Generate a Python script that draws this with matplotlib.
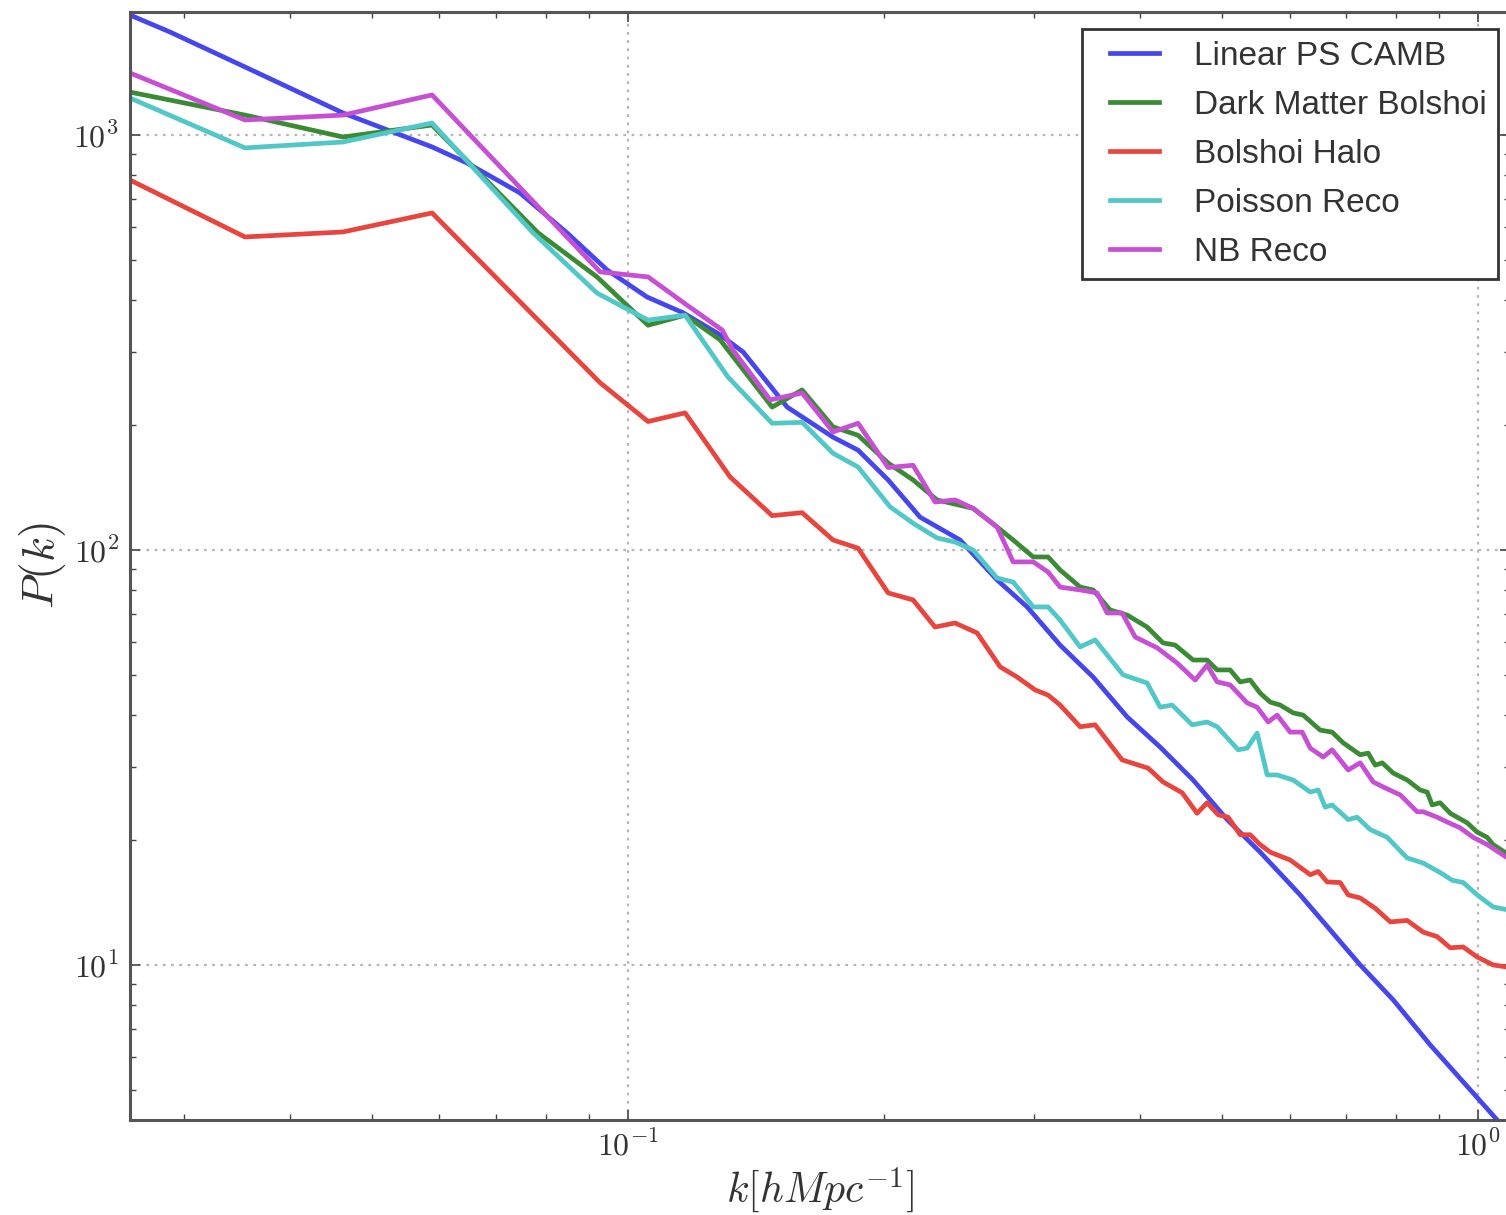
import matplotlib
matplotlib.use("Agg")
import matplotlib.pyplot as plt
from matplotlib.lines import Line2D
from matplotlib.legend_handler import HandlerLine2D
from matplotlib.ticker import FixedLocator, FixedFormatter, LogLocator, NullFormatter

plt.rcParams['mathtext.fontset'] = 'cm'
plt.rcParams['font.family'] = ['Liberation Sans', 'DejaVu Sans']

# Linear power spectrum (CAMB)
k_camb = [0.02595, 0.02892, 0.03543, 0.04621, 0.05881, 0.06466, 0.07463, 0.08476,
          0.09447, 0.10529, 0.11606, 0.12831, 0.13657, 0.15387, 0.17425, 0.18645,
          0.20227, 0.22054, 0.24578, 0.2717, 0.29478, 0.32226, 0.35244, 0.38645,
          0.42255, 0.46207, 0.50668, 0.55402, 0.61747, 0.72643, 0.79433, 0.87802,
          1.05285]
p_camb = [1946, 1771, 1459, 1130, 936, 856, 725, 581,
          473, 407, 373, 330, 300, 221, 187, 174,
          147.5, 120, 105.7, 84.7, 72.9, 59.0, 49.4, 39.6,
          33.5, 27.9, 22.4, 18.7, 14.75, 10.0, 8.24, 6.42,
          4.23]

# Bolshoi dark matter
k_dm = [0.02595, 0.03543, 0.04621, 0.05881, 0.07837, 0.09194, 0.10556, 0.1167,
        0.12831, 0.14773, 0.16024, 0.17425, 0.18645, 0.20227, 0.2164, 0.23092,
        0.25463, 0.2717, 0.28379, 0.29964, 0.31197, 0.32226, 0.34024, 0.35244,
        0.36903, 0.38645, 0.40791, 0.42598, 0.44006, 0.46207, 0.47993, 0.49309,
        0.51081, 0.52481, 0.53923, 0.55402, 0.56929, 0.5849, 0.60594, 0.62253,
        0.65192, 0.67325, 0.69372, 0.72643, 0.74234, 0.7566, 0.77119, 0.79433,
        0.82508, 0.85466, 0.87096, 0.88281, 0.90214, 0.92702, 0.97073, 0.99724,
        1.02471, 1.04139, 1.07868]
p_dm = [1269, 1117, 989, 1057, 581, 455, 348, 368,
        321, 221, 243, 198, 189, 162, 147.5, 132,
        126, 113.6, 105.7, 96.2, 96.2, 89.5, 81.4, 80.1,
        71.7, 69.7, 65.2, 59.7, 59.0, 54.3, 54.3, 51.4,
        51.4, 48.1, 48.6, 45.2, 43.0, 42.3, 40.5, 40.0,
        36.8, 36.4, 34.3, 32.1, 32.4, 30.3, 30.7, 29.0,
        27.9, 26.4, 26.1, 24.3, 24.6, 23.2, 22.0, 20.9,
        20.3, 19.5, 18.6]

# Bolshoi halos
k_halo = [0.02595, 0.03543, 0.04621, 0.05881, 0.0927, 0.10556, 0.1167, 0.13183,
          0.14773, 0.16024, 0.17425, 0.18645, 0.20227, 0.2164, 0.22967, 0.24247,
          0.2574, 0.27391, 0.28688, 0.30123, 0.31197, 0.32226, 0.34024, 0.35432,
          0.38122, 0.40902, 0.42598, 0.44853, 0.4671, 0.47993, 0.49446, 0.50805,
          0.52481, 0.53923, 0.55402, 0.56929, 0.60096, 0.63451, 0.6484, 0.66435,
          0.68801, 0.7032, 0.72643, 0.7566, 0.78814, 0.82508, 0.8616, 0.89487,
          0.92702, 0.96026, 0.99724, 1.04139, 1.07868]
p_halo = [779, 568, 584, 649, 253, 204, 214, 150,
          121, 123, 105.7, 101, 78.8, 75.8, 65.2, 66.7,
          63.1, 52.3, 49.4, 46.0, 44.7, 42.3, 37.5, 37.9,
          31.2, 29.8, 27.6, 26.0, 23.2, 24.6, 23.0, 22.7,
          20.6, 20.6, 19.5, 18.7, 17.9, 16.5, 16.8, 15.85,
          15.8, 14.75, 14.5, 13.7, 12.7, 12.8, 12.0, 11.7,
          11.0, 11.05, 10.45, 10.0, 9.89]

# Poisson reconstruction
k_poisson = [0.02595, 0.03543, 0.04621, 0.05881, 0.07731, 0.09194, 0.10556, 0.1167,
             0.1311, 0.14773, 0.16024, 0.17425, 0.18645, 0.20337, 0.2164, 0.23092,
             0.24247, 0.25463, 0.2717, 0.28379, 0.29964, 0.31197, 0.32226, 0.34024,
             0.35432, 0.38225, 0.40791, 0.42255, 0.43652, 0.4608, 0.47993, 0.49309,
             0.52199, 0.53484, 0.54954, 0.56466, 0.58015, 0.60594, 0.63451, 0.6484,
             0.66069, 0.67325, 0.7032, 0.72044, 0.74636, 0.78168, 0.82508, 0.8616,
             0.90214, 0.93202, 0.96026, 0.99724, 1.04139, 1.07868]
p_poisson = [1228, 931, 962, 1069, 581, 416, 358, 368,
             261, 202, 203, 171, 158.5, 127, 116, 106.9,
             104.5, 100, 85.6, 83.7, 72.9, 72.9, 67.8, 58.4,
             60.7, 50.0, 47.8, 41.8, 42.3, 37.9, 38.5, 37.5,
             33.0, 33.3, 36.2, 28.7, 28.7, 27.9, 26.1, 26.4,
             24.0, 24.3, 22.4, 22.7, 21.2, 20.3, 18.1, 17.6,
             16.7, 16.0, 15.8, 14.75, 13.8, 13.6]

# Negative binomial reconstruction
k_nb = [0.02595, 0.03543, 0.04621, 0.05881, 0.0927, 0.10556, 0.11733, 0.12902,
        0.1329, 0.14693, 0.16024, 0.17425, 0.18645, 0.20227, 0.2164, 0.22967,
        0.24247, 0.25463, 0.2717, 0.28379, 0.29964, 0.31197, 0.32226, 0.34024,
        0.35625, 0.366, 0.38122, 0.39491, 0.41915, 0.44246, 0.46463, 0.47993,
        0.49309, 0.51081, 0.53484, 0.54954, 0.5662, 0.58015, 0.60096, 0.62082,
        0.63451, 0.65721, 0.67325, 0.7032, 0.72643, 0.75252, 0.77745, 0.80949,
        0.84768, 0.8616, 0.89487, 0.91942, 0.95237, 0.98651, 1.02471, 1.07868]
p_nb = [1411, 1087, 1117, 1249, 468, 455, 389, 339,
        303, 230, 239, 192.5, 202, 158, 160, 130.5,
        132, 126, 113.6, 93.6, 93.6, 88.5, 81.4, 80.1,
        78.8, 70.5, 70.5, 61.7, 58.1, 53.4, 48.6, 52.8,
        48.1, 47.3, 42.8, 41.8, 38.5, 40.0, 36.4, 36.4,
        33.3, 31.7, 33.0, 29.5, 30.7, 27.6, 26.7, 25.7,
        23.4, 23.4, 22.7, 22.1, 21.4, 20.3, 19.5, 18.2]

series = [
    ("Linear PS CAMB", k_camb, p_camb, "#4646ee"),
    ("Dark Matter Bolshoi", k_dm, p_dm, "#3b8b35"),
    ("Bolshoi Halo", k_halo, p_halo, "#e8453f"),
    ("Poisson Reco", k_poisson, p_poisson, "#52c7c7"),
    ("NB Reco", k_nb, p_nb, "#c64fd4"),
]

x_ticks = [0.1, 1.0]
x_ticklabels = [r"$10^{-1}$", r"$10^{0}$"]
y_ticks = [10, 100, 1000]
y_ticklabels = [r"$10^{1}$", r"$10^{2}$", r"$10^{3}$"]

fig = plt.figure(figsize=(15.06, 12.15), dpi=100)
ax = fig.add_axes([0.08632, 0.07819, 0.91633, 0.91193])

for label, k, p, color in series:
    ax.plot(k, p, color=color, lw=3.4, label=label)

ax.set_xscale("log")
ax.set_yscale("log")
ax.set_xlim(0.02595, 1.09)
ax.set_ylim(4.23, 1979)

ax.xaxis.set_major_locator(FixedLocator(x_ticks))
ax.xaxis.set_major_formatter(FixedFormatter(x_ticklabels))
ax.yaxis.set_major_locator(FixedLocator(y_ticks))
ax.yaxis.set_major_formatter(FixedFormatter(y_ticklabels))
ax.xaxis.set_minor_locator(LogLocator(base=10, subs=range(2, 10)))
ax.yaxis.set_minor_locator(LogLocator(base=10, subs=range(2, 10)))
ax.xaxis.set_minor_formatter(NullFormatter())
ax.yaxis.set_minor_formatter(NullFormatter())

ax.tick_params(which="both", direction="in", top=True, right=True, colors="#444444")
ax.tick_params(which="major", length=7, width=1.2, labelsize=23, labelcolor="#333333", pad=8)
ax.tick_params(which="minor", length=4, width=1.0)

for sp in ax.spines.values():
    sp.set_linewidth(2.2)
    sp.set_color("#555555")

ax.grid(True, which="major", linestyle=(0, (1.2, 2.5)), color="#b5b5b5", lw=1.6)

ax.set_xlabel(r"$k[hMpc^{-1}]$", fontsize=30, color="#333333", labelpad=2)
ax.set_ylabel(r"$P(k)$", fontsize=33, color="#333333", labelpad=4)

leg = ax.legend(loc="upper right", bbox_to_anchor=(0.9913, 0.9847), borderaxespad=0,
                fontsize=24, fancybox=False, framealpha=1, edgecolor="#333333",
                handlelength=1.95, handletextpad=1.05, labelspacing=0.54, borderpad=0.35,
                handler_map={Line2D: HandlerLine2D(xpad=0.5)})
leg.get_frame().set_linewidth(2.0)
for line in leg.get_lines():
    line.set_linewidth(3.4)
for txt in leg.get_texts():
    txt.set_color("#333333")

fig.savefig("out.png", dpi=100)
